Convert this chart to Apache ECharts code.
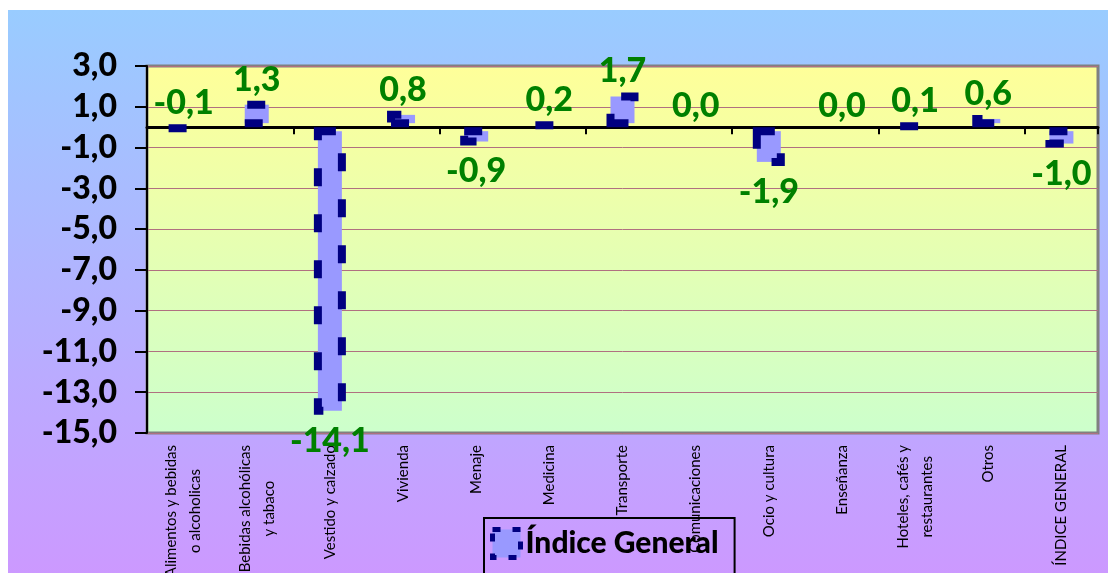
<!DOCTYPE html>
<html>
<head>
<meta charset="utf-8">
<script src="https://cdn.jsdelivr.net/npm/echarts@6/dist/echarts.min.js"></script>
<style>
  html, body { margin: 0; padding: 0; background: #fff; }
  #main { width: 1108px; height: 573px; }
</style>
</head>
<body>
<div id="main"></div>
<script>
// datos del grafico
var categorias = [
	'Alimentos y bebidas\no alcoholicas',
	'Bebidas alcohólicas\ny tabaco',
	'Vestido y calzado',
	'Vivienda',
	'Menaje',
	'Medicina',
	'Transporte',
	'Comunicaciones',
	'Ocio y cultura',
	'Enseñanza',
	'Hoteles, cafés y\nrestaurantes',
	'Otros',
	'ÍNDICE GENERAL'
];
var valores = [-0.1, 1.3, -14.1, 0.8, -0.9, 0.2, 1.7, 0.0, -1.9, 0.0, 0.1, 0.6, -1.0];
var nombreSerie = 'Índice General';
var ejeMin = -15;
var ejeMax = 3;
var ejeIntervalo = 2;

var fuente = 'Lato';
var fuenteEtiquetaX = 15;

function formatoComa(v) {
	return Number(v).toFixed(1).replace('.', ',');
}

// centrar las lineas cortas de las etiquetas de dos lineas
var ctx = document.createElement('canvas').getContext('2d');
ctx.font = fuenteEtiquetaX + 'px ' + fuente;
var richX = {};
var etiquetasX = {};
categorias.forEach(function(cat, i) {
	var lineas = cat.split('\n');
	if (lineas.length < 2) {
		etiquetasX[cat] = cat;
		return;
	}
	var anchos = lineas.map(function(l) { return ctx.measureText(l).width; });
	var maxAncho = Math.max.apply(null, anchos);
	etiquetasX[cat] = lineas.map(function(l, j) {
		var pad = (maxAncho - anchos[j]) / 2;
		if (pad < 1) return l;
		var nombre = 'p' + i + '_' + j;
		richX[nombre] = { width: pad, fontSize: fuenteEtiquetaX };
		return l + '{' + nombre + '| }';
	}).join('\n');
});

var datos = valores.map(function(v) {
	var item = {
		value: v,
		label: { position: v < -0.5 ? 'bottom' : 'top', distance: v < -0.5 ? 9 : 4 }
	};
	if (v === 0) item.itemStyle = { borderWidth: 0 };
	return item;
});

var myChart = echarts.init(document.getElementById('main'));
var option = {
	backgroundColor: '#ffffff',
	animation: false,
	graphic: [{
		type: 'rect',
		z: -10,
		shape: { x: 8, y: 10, width: 1100, height: 563 },
		style: {
			fill: new echarts.graphic.LinearGradient(0, 0, 0, 1, [
				{ offset: 0, color: '#99CCFF' },
				{ offset: 1, color: '#CC99FF' }
			])
		}
	}],
	grid: {
		left: 147,
		right: 10,
		top: 66,
		bottom: 140,
		containLabel: false,
		outerBoundsMode: 'none',
		show: true,
		backgroundColor: new echarts.graphic.LinearGradient(0, 0, 0, 1, [
			{ offset: 0, color: '#FFFF99' },
			{ offset: 1, color: '#CCFFCC' }
		]),
		borderColor: '#808080',
		borderWidth: 3
	},
	legend: {
		data: [nombreSerie],
		left: 484,
		top: 518,
		icon: 'rect',
		itemWidth: 28,
		itemHeight: 28,
		itemGap: 4,
		padding: [9, 16, 20, 6],
		borderColor: '#000000',
		borderWidth: 2,
		itemStyle: { borderWidth: 5, borderType: [8, 12] },
		textStyle: { fontFamily: fuente, fontWeight: 900, fontSize: 30, color: '#000000' }
	},
	xAxis: [{
		type: 'category',
		data: categorias,
		position: 'bottom',
		axisLine: { show: false, onZero: false },
		axisTick: { show: false },
		axisLabel: {
			interval: 0,
			rotate: 90,
			margin: 12,
			color: '#000000',
			fontFamily: fuente,
			fontSize: fuenteEtiquetaX,
			lineHeight: 24,
			formatter: function(v) { return etiquetasX[v]; },
			rich: richX
		}
	}, {
		type: 'category',
		data: categorias,
		position: 'bottom',
		axisLine: { show: true, onZero: true, lineStyle: { color: '#000000', width: 3 } },
		axisTick: { show: true, length: 7, lineStyle: { color: '#000000', width: 2 } },
		axisLabel: { show: false }
	}],
	yAxis: {
		type: 'value',
		min: ejeMin,
		max: ejeMax,
		interval: ejeIntervalo,
		axisLine: { show: true, lineStyle: { color: '#000000', width: 2 } },
		axisTick: { show: true, length: 12, lineStyle: { color: '#000000', width: 2 } },
		axisLabel: {
			margin: 30,
			color: '#000000',
			fontFamily: fuente,
			fontWeight: 900,
			fontSize: 32,
			formatter: formatoComa
		},
		splitLine: { show: true, lineStyle: { color: '#B07080', width: 1 } }
	},
	series: [{
		name: nombreSerie,
		type: 'bar',
		xAxisIndex: 0,
		barWidth: 32,
		data: datos,
		itemStyle: {
			color: '#9999FF',
			borderColor: '#000080',
			borderWidth: 8,
			borderType: [18, 28]
		},
		label: {
			show: true,
			color: '#008000',
			fontFamily: fuente,
			fontWeight: 900,
			fontSize: 34,
			formatter: function(p) { return formatoComa(p.value); }
		}
	}]
};

myChart.setOption(option);
</script>
</body>
</html>
